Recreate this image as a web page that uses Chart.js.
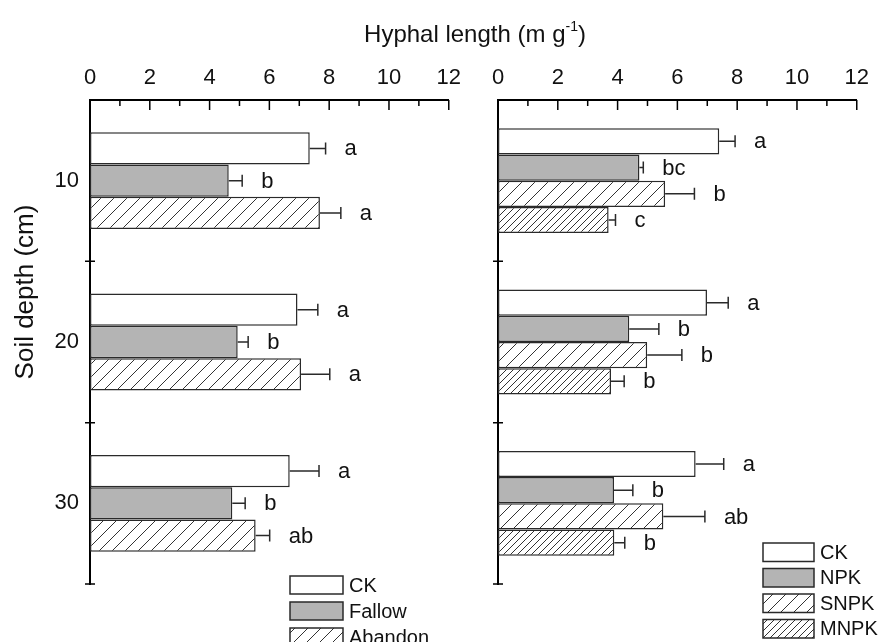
<!DOCTYPE html>
<html>
<head>
<meta charset="utf-8">
<script src="https://cdn.jsdelivr.net/npm/chart.js@4.4.0/dist/chart.umd.min.js"></script>
<style>
    body { margin: 0; background: #fff; width: 878px; height: 642px; overflow: hidden; position: relative; font-family: "Liberation Sans", Arial, sans-serif; }
    #title { position: absolute; top: 20px; left: 475px; transform: translateX(-50%); font-size: 24px; line-height: 28px; white-space: nowrap; color: #111; z-index: 2; }
    #title sup { font-size: 14px; vertical-align: baseline; position: relative; top: -11px; }
    canvas { position: absolute; top: 0; }
    #left-panel { left: 0; }
    #right-panel { left: 470px; }
</style>
</head>
<body>
<div id="title">Hyphal length (m g<sup>-1</sup>)</div>
<canvas id="left-panel" width="470" height="642"></canvas>
<canvas id="right-panel" width="408" height="642"></canvas>
<script>
const depths = ['10', '20', '30'];
const xTickLabels = [0, 2, 4, 6, 8, 10, 12];

// left panel: land use
const ckLeft = [7.35, 6.94, 6.68];
const ckLeftErr = [0.53, 0.68, 0.98];
const ckLeftLetters = ['a', 'a', 'a'];
const fallow = [4.64, 4.94, 4.76];
const fallowErr = [0.45, 0.35, 0.43];
const fallowLetters = ['b', 'b', 'b'];
const abandon = [7.69, 7.06, 5.54];
const abandonErr = [0.70, 0.96, 0.47];
const abandonLetters = ['a', 'a', 'ab'];

// right panel: fertilisation
const ckRight = [7.40, 6.99, 6.61];
const ckRightErr = [0.53, 0.71, 0.94];
const ckRightLetters = ['a', 'a', 'a'];
const npk = [4.73, 4.39, 3.88];
const npkErr = [0.13, 0.99, 0.63];
const npkLetters = ['bc', 'b', 'b'];
const snpk = [5.59, 4.99, 5.53];
const snpkErr = [0.98, 1.16, 1.39];
const snpkLetters = ['b', 'b', 'ab'];
const mnpk = [3.70, 3.78, 3.89];
const mnpkErr = [0.23, 0.44, 0.35];
const mnpkLetters = ['c', 'b', 'b'];

const FONT = "'Liberation Sans', Arial, sans-serif";
Chart.defaults.font.family = FONT;
Chart.defaults.color = '#111';

function hatch(step) {
    const c = document.createElement('canvas');
    c.width = c.height = step;
    const g = c.getContext('2d');
    g.fillStyle = '#fff';
    g.fillRect(0, 0, step, step);
    g.strokeStyle = '#333';
    g.lineWidth = 1;
    g.beginPath();
    g.moveTo(0, step); g.lineTo(step, 0);
    g.moveTo(-1, 1); g.lineTo(1, -1);
    g.moveTo(step - 1, step + 1); g.lineTo(step + 1, step - 1);
    g.stroke();
    return g.createPattern(c, 'repeat');
}

const GRAY = '#b4b4b4';
const EDGE = '#2a2a2a';

// error bars + significance letters
const errorBars = {
    id: 'errorBars',
    afterDatasetsDraw(chart) {
        const ctx = chart.ctx;
        const xs = chart.scales.x;
        chart.data.datasets.forEach((ds, i) => {
            chart.getDatasetMeta(i).data.forEach((bar, j) => {
                const end = xs.getPixelForValue(ds.data[j] + ds.errors[j]);
                ctx.save();
                ctx.strokeStyle = EDGE;
                ctx.lineWidth = 1.5;
                ctx.beginPath();
                ctx.moveTo(bar.x, bar.y);
                ctx.lineTo(end, bar.y);
                ctx.moveTo(end, bar.y - 6);
                ctx.lineTo(end, bar.y + 6);
                ctx.stroke();
                ctx.fillStyle = '#111';
                ctx.font = '22px ' + FONT;
                ctx.textAlign = 'left';
                ctx.textBaseline = 'middle';
                ctx.fillText(ds.letters[j], end + 19, bar.y + 1);
                ctx.restore();
            });
        });
    }
};

// inward ticks on the top axis, crossing ticks on the depth axis
const axisTicks = {
    id: 'axisTicks',
    afterDraw(chart) {
        const {ctx, chartArea: a, scales: {x, y}} = chart;
        ctx.save();
        ctx.strokeStyle = '#000';
        ctx.lineWidth = 1.5;
        ctx.beginPath();
        for (let v = x.min; v <= x.max; v++) {
            const px = x.getPixelForValue(v);
            const len = xTickLabels.includes(v) ? 10 : 6;
            ctx.moveTo(px, a.top);
            ctx.lineTo(px, a.top + len);
        }
        for (let k = 1; k <= depths.length; k++) {
            const py = y.getPixelForValue(k - 0.5);
            ctx.moveTo(a.left - 5, py);
            ctx.lineTo(a.left + 5, py);
        }
        ctx.stroke();
        ctx.restore();
    }
};

// boxed legend under the bars
const boxLegend = {
    id: 'boxLegend',
    afterDraw(chart, args, opts) {
        const ctx = chart.ctx;
        chart.data.datasets.forEach((ds, i) => {
            const top = opts.y + i * opts.step;
            ctx.save();
            ctx.fillStyle = ds.backgroundColor;
            ctx.fillRect(opts.x, top, opts.w, opts.h);
            ctx.strokeStyle = EDGE;
            ctx.lineWidth = 1.5;
            ctx.strokeRect(opts.x, top, opts.w, opts.h);
            ctx.fillStyle = '#111';
            ctx.font = '20px ' + FONT;
            ctx.textAlign = 'left';
            ctx.textBaseline = 'middle';
            ctx.fillText(ds.label, opts.x + opts.w + 6, top + opts.h / 2 + 1);
            ctx.restore();
        });
    }
};

// rotated y title
const depthTitle = {
    id: 'depthTitle',
    afterDraw(chart, args, opts) {
        if (!opts.text) return;
        const ctx = chart.ctx;
        ctx.save();
        ctx.translate(opts.x, opts.y);
        ctx.rotate(-Math.PI / 2);
        ctx.fillStyle = '#111';
        ctx.font = '26px ' + FONT;
        ctx.textAlign = 'center';
        ctx.textBaseline = 'middle';
        ctx.fillText(opts.text, 0, 0);
        ctx.restore();
    }
};

function barSet(label, data, errors, letters, fill, pct) {
    return {
        label: label,
        data: data,
        errors: errors,
        letters: letters,
        backgroundColor: fill,
        borderColor: EDGE,
        borderWidth: 1.5,
        borderSkipped: false,
        categoryPercentage: pct,
        barPercentage: 1
    };
}

function makePanel(id, datasets, cfg) {
    return new Chart(document.getElementById(id), {
        type: 'bar',
        data: { labels: depths, datasets: datasets },
        options: {
            indexAxis: 'y',
            responsive: false,
            animation: false,
            layout: { padding: { top: 0, left: 0, right: cfg.padRight, bottom: 58 } },
            plugins: {
                legend: { display: false },
                tooltip: { enabled: false },
                boxLegend: cfg.legend,
                depthTitle: cfg.yTitle || {}
            },
            scales: {
                x: {
                    position: 'top',
                    min: 0,
                    max: 12,
                    afterFit: (s) => { s.height = 100; },
                    grid: { display: false, drawTicks: false },
                    border: { display: true, color: '#000', width: 2 },
                    ticks: {
                        stepSize: 1,
                        autoSkip: false,
                        maxRotation: 0,
                        padding: 9,
                        font: { size: 22 },
                        color: '#111',
                        callback: (v) => xTickLabels.includes(v) ? String(v) : ''
                    }
                },
                y: {
                    afterFit: (s) => { s.width = cfg.yWidth; },
                    grid: { display: false, drawTicks: false },
                    border: { display: true, color: '#000', width: 2 },
                    ticks: {
                        display: cfg.showDepths,
                        padding: 11,
                        font: { size: 22 },
                        color: '#111'
                    }
                }
            }
        },
        plugins: [errorBars, axisTicks, boxLegend, depthTitle]
    });
}

makePanel('left-panel', [
    barSet('CK', ckLeft, ckLeftErr, ckLeftLetters, '#fff', 0.6),
    barSet('Fallow', fallow, fallowErr, fallowLetters, GRAY, 0.6),
    barSet('Abandon', abandon, abandonErr, abandonLetters, hatch(13), 0.6)
], {
    padRight: 17,
    yWidth: 90,
    showDepths: true,
    legend: { x: 290, y: 576, w: 53, h: 18, step: 26 },
    yTitle: { text: 'Soil depth (cm)', x: 26, y: 292 }
});

makePanel('right-panel', [
    barSet('CK', ckRight, ckRightErr, ckRightLetters, '#fff', 0.65),
    barSet('NPK', npk, npkErr, npkLetters, GRAY, 0.65),
    barSet('SNPK', snpk, snpkErr, snpkLetters, hatch(13), 0.65),
    barSet('MNPK', mnpk, mnpkErr, mnpkLetters, hatch(7), 0.65)
], {
    padRight: 18,
    yWidth: 28,
    showDepths: false,
    legend: { x: 293, y: 543, w: 51, h: 18.5, step: 25.5 }
});
</script>
</body>
</html>
